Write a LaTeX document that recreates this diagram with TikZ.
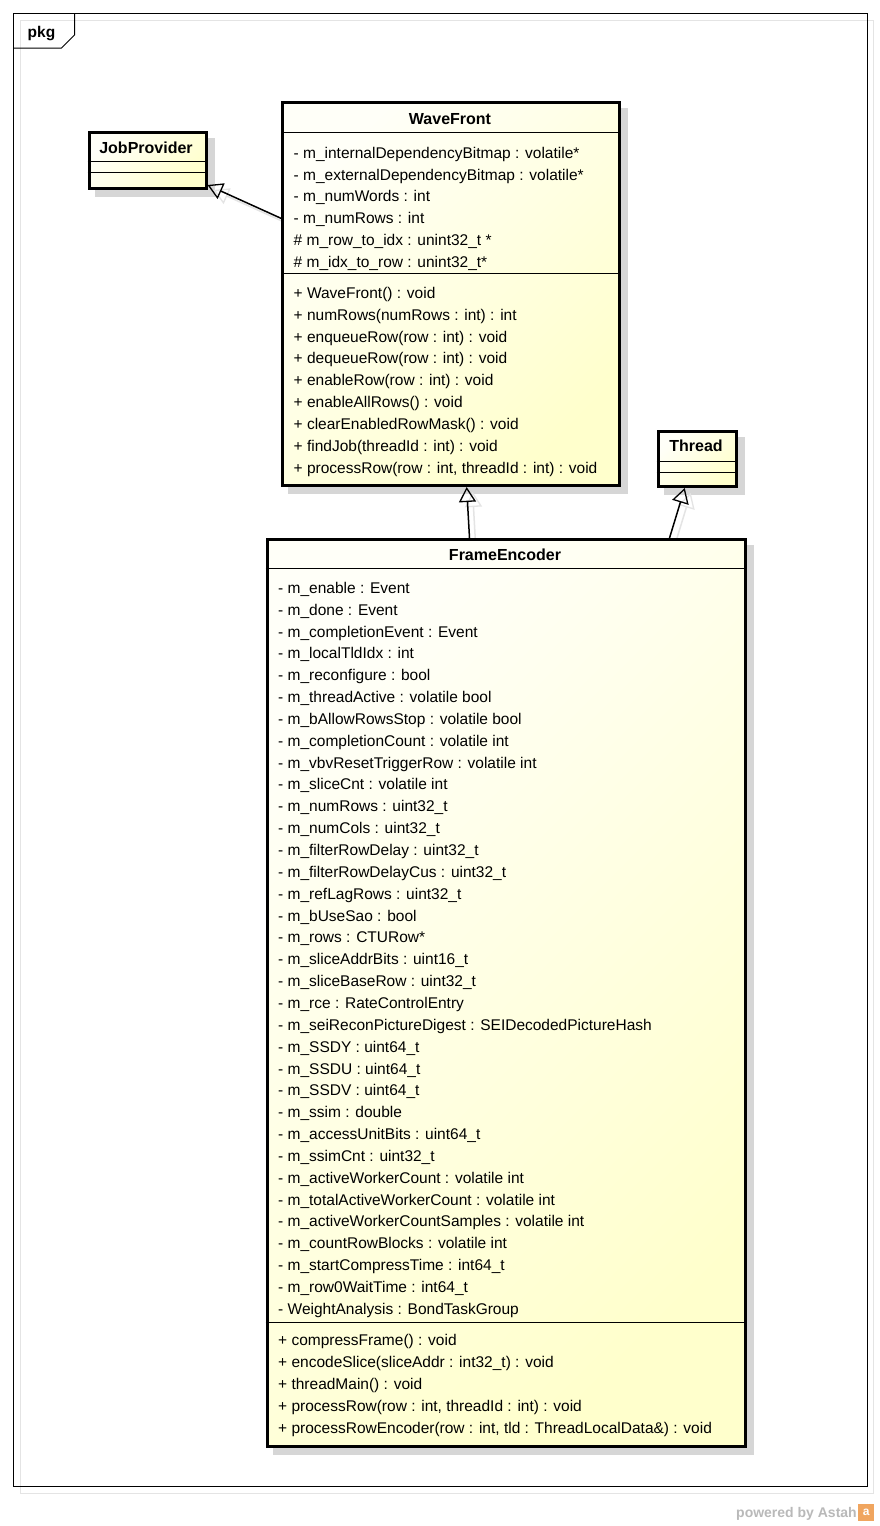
\documentclass[tikz,border=0pt]{standalone}
\usepackage{fontspec}
\setmainfont{Liberation Sans}
\usetikzlibrary{arrows.meta,backgrounds}
\definecolor{clsY}{RGB}{255,255,204}
\definecolor{clsW}{RGB}{255,255,248}
\definecolor{shad}{RGB}{214,214,214}
\definecolor{ashad}{RGB}{228,228,228}
\definecolor{astahgray}{RGB}{185,185,185}
\definecolor{astahorange}{RGB}{240,165,95}
\tikzset{
  cls/.style={draw=black, line width=3pt, top color=clsW, bottom color=clsY, shading angle=45,
    rectangle, inner sep=0pt, anchor=north west},
  sep/.style={line width=1pt},
  attr/.style={anchor=base west, inner sep=0pt, font=\fontsize{15.5}{18}\selectfont},
  cname/.style={anchor=base, inner sep=0pt, font=\fontsize{16}{18}\selectfont\bfseries},
  gen/.style={line width=1.5pt, -{Triangle[open, length=15pt, width=17pt, line width=1.3pt]}},
  genshadow/.style={draw=ashad, line width=1.5pt, -{Triangle[open, length=15pt, width=17pt, line width=1.3pt]}},
}
\begin{document}
\begin{tikzpicture}[x=1pt,y=-1pt]
\useasboundingbox (0,0) rectangle (880,1526);

% package frame
\draw[line width=1pt] (13,13) rectangle (867,1486);
\draw[line width=1pt] (13,48) -- (61.5,48) -- (74.5,35) -- (74.5,13);
\node[anchor=base west, inner sep=0pt, font=\fontsize{15.5}{18}\selectfont\bfseries] (pkg) at (27.5,37) {pkg};

% class boxes
\node[cls, minimum width=117pt, minimum height=56pt] (jp) at (87.5,130.5) {};
\node[cls, minimum width=337.3pt, minimum height=383.5pt] (wf) at (281,100.5) {};
\node[cls, minimum width=78.5pt, minimum height=55.5pt] (th) at (656.5,429.5) {};
\node[cls, minimum width=478pt, minimum height=907pt] (fe) at (265.5,538) {};

% shadows
\begin{scope}[on background layer]
  \fill[white] (0,0) rectangle (880,1526);
  \draw[ashad, line width=1pt] (20,20) rectangle (873,1493);
  \foreach \n in {jp,wf,th,fe}{
    \fill[shad] ([xshift=7pt,yshift=-7pt]\n.north west) rectangle ([xshift=7pt,yshift=-7pt]\n.south east);
  }
  \draw[genshadow] ([xshift=6pt,yshift=-5pt]wf.west |- 0,218.3) -- ([xshift=6pt,yshift=-0.5pt]jp.south east);
  \draw[genshadow] ([xshift=-30.5pt,yshift=-5pt]fe.north) -- ([xshift=21.5pt,yshift=-5pt]wf.south);
  \draw[genshadow] ([xshift=169.5pt,yshift=-5pt]fe.north) -- ([xshift=-6.5pt,yshift=-5pt]th.south);
\end{scope}

% compartments
\draw[sep] (jp.west |- 0,161) -- (jp.east |- 0,161);
\draw[sep] (jp.west |- 0,172) -- (jp.east |- 0,172);
\draw[sep] (th.west |- 0,461) -- (th.east |- 0,461);
\draw[sep] (th.west |- 0,472) -- (th.east |- 0,472);
\draw[sep] (wf.west |- 0,132.7) -- (wf.east |- 0,132.7);
\draw[sep] (wf.west |- 0,273) -- (wf.east |- 0,273);
\draw[sep] (fe.west |- 0,568) -- (fe.east |- 0,568);
\draw[sep] (fe.west |- 0,1322.5) -- (fe.east |- 0,1322.5);

% class names
\node[cname] (jpname) at (146,153.5) {JobProvider};
\node[cname] (thname) at (696,451.5) {Thread};
\node[cname] (wfname) at (450,124.3) {WaveFront};
\node[cname] (fename) at (505,560) {FrameEncoder};

% WaveFront attributes
\foreach \t [count=\i] in {
  {- m\_internalDependencyBitmap : volatile*},
  {- m\_externalDependencyBitmap : volatile*},
  {- m\_numWords : int},
  {- m\_numRows : int},
  {\# m\_row\_to\_idx : unint32\_t *},
  {\# m\_idx\_to\_row : unint32\_t*}}{
  \node[attr] (wfa\i) at (293.5,{158.3+21.8*(\i-1)}) {\t};
}
% WaveFront operations
\foreach \t [count=\i] in {
  {+ WaveFront() : void},
  {+ numRows(numRows : int) : int},
  {+ enqueueRow(row : int) : void},
  {+ dequeueRow(row : int) : void},
  {+ enableRow(row : int) : void},
  {+ enableAllRows() : void},
  {+ clearEnabledRowMask() : void},
  {+ findJob(threadId : int) : void},
  {+ processRow(row : int, threadId : int) : void}}{
  \node[attr] (wfm\i) at (293.5,{298.3+21.875*(\i-1)}) {\t};
}
% FrameEncoder attributes
\foreach \t [count=\i] in {
  {- m\_enable : Event},
  {- m\_done : Event},
  {- m\_completionEvent : Event},
  {- m\_localTldIdx : int},
  {- m\_reconfigure : bool},
  {- m\_threadActive : volatile bool},
  {- m\_bAllowRowsStop : volatile bool},
  {- m\_completionCount : volatile int},
  {- m\_vbvResetTriggerRow : volatile int},
  {- m\_sliceCnt : volatile int},
  {- m\_numRows : uint32\_t},
  {- m\_numCols : uint32\_t},
  {- m\_filterRowDelay : uint32\_t},
  {- m\_filterRowDelayCus : uint32\_t},
  {- m\_refLagRows : uint32\_t},
  {- m\_bUseSao : bool},
  {- m\_rows : CTURow*},
  {- m\_sliceAddrBits : uint16\_t},
  {- m\_sliceBaseRow : uint32\_t},
  {- m\_rce : RateControlEntry},
  {- m\_seiReconPictureDigest : SEIDecodedPictureHash},
  {- m\_SSDY : uint64\_t},
  {- m\_SSDU : uint64\_t},
  {- m\_SSDV : uint64\_t},
  {- m\_ssim : double},
  {- m\_accessUnitBits : uint64\_t},
  {- m\_ssimCnt : uint32\_t},
  {- m\_activeWorkerCount : volatile int},
  {- m\_totalActiveWorkerCount : volatile int},
  {- m\_activeWorkerCountSamples : volatile int},
  {- m\_countRowBlocks : volatile int},
  {- m\_startCompressTime : int64\_t},
  {- m\_row0WaitTime : int64\_t},
  {- WeightAnalysis : BondTaskGroup}}{
  \node[attr] (fea\i) at (278,{593.3+21.85*(\i-1)}) {\t};
}
% FrameEncoder operations
\foreach \t [count=\i] in {
  {+ compressFrame() : void},
  {+ encodeSlice(sliceAddr : int32\_t) : void},
  {+ threadMain() : void},
  {+ processRow(row : int, threadId : int) : void},
  {+ processRowEncoder(row : int, tld : ThreadLocalData\&) : void}}{
  \node[attr] (fem\i) at (278,{1345.7+21.9*(\i-1)}) {\t};
}

% generalizations
\draw[gen] (wf.west |- 0,218.3) -- ([yshift=4.5pt]jp.south east);
\draw[gen] ([xshift=-36.5pt]fe.north) -- ([xshift=15.5pt]wf.south);
\draw[gen] ([xshift=163.5pt]fe.north) -- ([xshift=-12.5pt]th.south);

% footer
\node[anchor=base west, inner sep=0pt, text=astahgray, font=\fontsize{14}{16}\selectfont\bfseries] (powered) at (736,1517.5) {powered by Astah};
\node[anchor=west, inner sep=0pt, minimum width=16pt, minimum height=17pt, fill=astahorange,
  text=white, font=\fontsize{12}{12}\selectfont\bfseries] (logo) at ([xshift=1pt]powered.east |- 0,1512) {a};
\end{tikzpicture}
\end{document}
